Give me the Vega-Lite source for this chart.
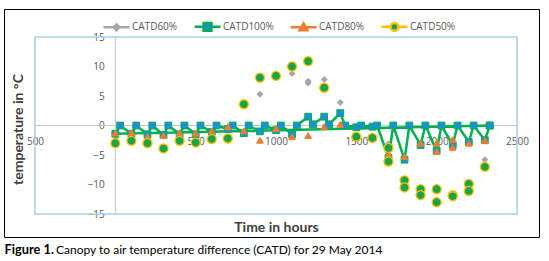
{
  "$schema": "https://vega.github.io/schema/vega-lite/v6.json",
  "width": 535,
  "height": 228,
  "autosize": "none",
  "padding": {"left": 4, "top": 9, "right": 10, "bottom": 24},
  "background": "white",
  "config": {"view": {"stroke": "#000000", "strokeWidth": 1}, "font": "Open Sans"},
  "data": {"values": [
    {"s":"CATD60%","t":0,"v":-3.0},{"s":"CATD60%","t":100,"v":-2.6},{"s":"CATD60%","t":200,"v":-3.0},{"s":"CATD60%","t":300,"v":-3.9},
    {"s":"CATD60%","t":400,"v":-2.6},{"s":"CATD60%","t":500,"v":-2.9},{"s":"CATD60%","t":600,"v":-2.3},{"s":"CATD60%","t":700,"v":-2.2},
    {"s":"CATD60%","t":800,"v":3.6},{"s":"CATD60%","t":900,"v":5.3},{"s":"CATD60%","t":1000,"v":8.4},{"s":"CATD60%","t":1100,"v":8.8},
    {"s":"CATD60%","t":1200,"v":7.2},{"s":"CATD60%","t":1200,"v":7.5},{"s":"CATD60%","t":1300,"v":7.8},{"s":"CATD60%","t":1400,"v":3.9},
    {"s":"CATD60%","t":1500,"v":-1.9},{"s":"CATD60%","t":1600,"v":-2.1},{"s":"CATD60%","t":1700,"v":-3.1},{"s":"CATD60%","t":1800,"v":-9.3},
    {"s":"CATD60%","t":1900,"v":-10.8},{"s":"CATD60%","t":2000,"v":-10.8},{"s":"CATD60%","t":2100,"v":-11.9},{"s":"CATD60%","t":2200,"v":-9.9},
    {"s":"CATD60%","t":2300,"v":-5.8},

    {"s":"CATD100%","t":2330,"v":0.0,"o":0},
    {"s":"CATD100%","t":0,"v":-1.4,"o":1},{"s":"CATD100%","t":30,"v":0.0,"o":2},
    {"s":"CATD100%","t":100,"v":-1.4,"o":3},{"s":"CATD100%","t":130,"v":0.0,"o":4},
    {"s":"CATD100%","t":200,"v":-1.5,"o":5},{"s":"CATD100%","t":230,"v":0.0,"o":6},
    {"s":"CATD100%","t":300,"v":-1.6,"o":7},{"s":"CATD100%","t":330,"v":0.0,"o":8},
    {"s":"CATD100%","t":400,"v":-1.5,"o":9},{"s":"CATD100%","t":430,"v":0.0,"o":10},
    {"s":"CATD100%","t":500,"v":-1.5,"o":11},{"s":"CATD100%","t":530,"v":0.0,"o":12},
    {"s":"CATD100%","t":600,"v":-1.1,"o":13},{"s":"CATD100%","t":630,"v":0.0,"o":14},
    {"s":"CATD100%","t":700,"v":-0.6,"o":15},{"s":"CATD100%","t":730,"v":0.0,"o":16},
    {"s":"CATD100%","t":800,"v":-1.3,"o":17},{"s":"CATD100%","t":830,"v":0.0,"o":18},
    {"s":"CATD100%","t":900,"v":-1.0,"o":19},{"s":"CATD100%","t":930,"v":0.0,"o":20},
    {"s":"CATD100%","t":1000,"v":-0.8,"o":21},{"s":"CATD100%","t":1030,"v":0.0,"o":22},
    {"s":"CATD100%","t":1100,"v":-1.5,"o":23},{"s":"CATD100%","t":1130,"v":0.0,"o":24},
    {"s":"CATD100%","t":1200,"v":1.5,"o":25},{"s":"CATD100%","t":1230,"v":0.2,"o":26},
    {"s":"CATD100%","t":1300,"v":1.5,"o":27},{"s":"CATD100%","t":1330,"v":0.2,"o":28},
    {"s":"CATD100%","t":1400,"v":2.1,"o":29},{"s":"CATD100%","t":1430,"v":0.0,"o":30},
    {"s":"CATD100%","t":1500,"v":-0.3,"o":31},{"s":"CATD100%","t":1530,"v":0.0,"o":32},
    {"s":"CATD100%","t":1600,"v":-0.2,"o":33},{"s":"CATD100%","t":1630,"v":0.0,"o":34},
    {"s":"CATD100%","t":1700,"v":-5.5,"o":35},{"s":"CATD100%","t":1730,"v":0.0,"o":36},
    {"s":"CATD100%","t":1800,"v":-5.8,"o":37},{"s":"CATD100%","t":1830,"v":0.0,"o":38},
    {"s":"CATD100%","t":1900,"v":-3.3,"o":39},{"s":"CATD100%","t":1930,"v":0.0,"o":40},
    {"s":"CATD100%","t":2000,"v":-4.3,"o":41},{"s":"CATD100%","t":2030,"v":0.0,"o":42},
    {"s":"CATD100%","t":2100,"v":-3.3,"o":43},{"s":"CATD100%","t":2130,"v":0.0,"o":44},
    {"s":"CATD100%","t":2200,"v":-2.8,"o":45},{"s":"CATD100%","t":2230,"v":0.0,"o":46},
    {"s":"CATD100%","t":2300,"v":-2.5,"o":47},{"s":"CATD100%","t":2330,"v":0.0,"o":48},

    {"s":"CATD80%","t":0,"v":-1.3},{"s":"CATD80%","t":100,"v":-1.2},{"s":"CATD80%","t":200,"v":-1.9},{"s":"CATD80%","t":300,"v":-1.7},
    {"s":"CATD80%","t":400,"v":-1.2},{"s":"CATD80%","t":500,"v":-1.3},{"s":"CATD80%","t":600,"v":-0.9},{"s":"CATD80%","t":700,"v":-0.2},
    {"s":"CATD80%","t":800,"v":-0.9},{"s":"CATD80%","t":900,"v":-2.5},{"s":"CATD80%","t":1000,"v":-0.5},{"s":"CATD80%","t":1100,"v":-1.9},
    {"s":"CATD80%","t":1200,"v":-1.7},{"s":"CATD80%","t":1300,"v":-0.2},{"s":"CATD80%","t":1400,"v":0.2},{"s":"CATD80%","t":1500,"v":-1.9},
    {"s":"CATD80%","t":1600,"v":-2.1},{"s":"CATD80%","t":1700,"v":-4.8},{"s":"CATD80%","t":1800,"v":-5.3},{"s":"CATD80%","t":1900,"v":-3.0},
    {"s":"CATD80%","t":2000,"v":-3.0},{"s":"CATD80%","t":2000,"v":-4.4},{"s":"CATD80%","t":2100,"v":-2.4},{"s":"CATD80%","t":2100,"v":-3.7},
    {"s":"CATD80%","t":2200,"v":-3.0},{"s":"CATD80%","t":2300,"v":-2.5},

    {"s":"CATD50%","t":0,"v":-3.0},{"s":"CATD50%","t":100,"v":-2.6},{"s":"CATD50%","t":200,"v":-3.0},{"s":"CATD50%","t":300,"v":-3.9},
    {"s":"CATD50%","t":400,"v":-2.6},{"s":"CATD50%","t":500,"v":-2.9},{"s":"CATD50%","t":600,"v":-2.3},{"s":"CATD50%","t":700,"v":-2.2},
    {"s":"CATD50%","t":800,"v":3.6},{"s":"CATD50%","t":900,"v":8.1},{"s":"CATD50%","t":1000,"v":8.4},{"s":"CATD50%","t":1100,"v":10.0},
    {"s":"CATD50%","t":1200,"v":10.9},{"s":"CATD50%","t":1300,"v":6.4},{"s":"CATD50%","t":1500,"v":-1.9},{"s":"CATD50%","t":1600,"v":-2.1},
    {"s":"CATD50%","t":1700,"v":-3.8},{"s":"CATD50%","t":1700,"v":-6.1},{"s":"CATD50%","t":1800,"v":-9.3},{"s":"CATD50%","t":1800,"v":-10.5},
    {"s":"CATD50%","t":1900,"v":-10.8},{"s":"CATD50%","t":1900,"v":-11.8},{"s":"CATD50%","t":2000,"v":-10.8},{"s":"CATD50%","t":2000,"v":-13.0},
    {"s":"CATD50%","t":2100,"v":-11.8},{"s":"CATD50%","t":2100,"v":-12.0},{"s":"CATD50%","t":2200,"v":-9.9},{"s":"CATD50%","t":2200,"v":-11.1},
    {"s":"CATD50%","t":2300,"v":-7.0}
  ]},
  "resolve": {"axis": {"x": "independent", "y": "independent"}},
  "layer": [
    {
      "data": {"values": [{}]},
      "mark": {"type": "rect", "fillOpacity": 0, "stroke": "#A8CFEF", "strokeWidth": 1.5},
      "encoding": {
        "x": {"datum": -500, "type": "quantitative", "scale": {"domain": [-692.9, 2636.9], "nice": false, "zero": false},
          "axis": {"orient": "bottom", "labels": false, "ticks": false, "domain": false, "grid": false,
            "title": "Figure 1.", "titleFont": "Lato", "titleFontWeight": "bold", "titleFontSize": 12.8, "titleColor": "#000000",
            "titleAlign": "left", "titleBaseline": "alphabetic", "titleX": 0, "titleY": 16}},
        "x2": {"datum": 2500},
        "y": {"datum": -15, "type": "quantitative", "scale": {"domain": [-18.898, 19.746], "nice": false, "zero": false}, "axis": null},
        "y2": {"datum": 15}
      }
    },
    {
      "data": {"values": [{}]},
      "mark": {"type": "rule", "stroke": "#C6C6C6", "strokeWidth": 1},
      "encoding": {
        "x": {"datum": -500, "type": "quantitative", "scale": {"domain": [-692.9, 2636.9], "nice": false, "zero": false},
          "axis": {"orient": "bottom", "labels": false, "ticks": false, "domain": false, "grid": false,
            "title": "Canopy to air temperature difference (CATD) for 29 May 2014", "titleFont": "Lato", "titleFontWeight": "normal", "titleFontSize": 12, "titleColor": "#000000",
            "titleAlign": "left", "titleBaseline": "alphabetic", "titleX": 51.5, "titleY": 16}},
        "x2": {"datum": 2500},
        "y": {"datum": 0, "type": "quantitative", "scale": {"domain": [-18.898, 19.746], "nice": false, "zero": false}, "axis": null}
      }
    },
    {
      "data": {"values": [{}]},
      "mark": {"type": "rule", "stroke": "#C6C6C6", "strokeWidth": 1},
      "encoding": {
        "x": {"datum": 0, "type": "quantitative", "scale": {"domain": [-692.9, 2636.9], "nice": false, "zero": false}, "axis": null},
        "y": {"datum": -15, "type": "quantitative", "scale": {"domain": [-18.898, 19.746], "nice": false, "zero": false}, "axis": null},
        "y2": {"datum": 15}
      }
    },
    {
      "data": {"values": []},
      "mark": {"type": "point", "filled": true, "opacity": 1},
      "encoding": {
        "fill": {"field": "s", "type": "nominal",
          "scale": {"domain": ["CATD60%", "CATD100%", "CATD80%", "CATD50%"], "range": ["#A5A5A5", "#1C8FD6", "#ED7D31", "#14A54A"]},
          "legend": {"orient": "none", "legendX": 98, "legendY": 3, "direction": "horizontal", "title": null, "padding": 0,
            "columnPadding": 11, "labelOffset": 1, "labelFontSize": 10, "labelColor": "#595959", "labelFont": "Open Sans",
            "symbolSize": 676, "symbolStrokeWidth": 2.5, "symbolOpacity": 1}},
        "stroke": {"field": "s", "type": "nominal",
          "scale": {"domain": ["CATD60%", "CATD100%", "CATD80%", "CATD50%"], "range": ["#A5A5A5", "#00B050", "#ED7D31", "#FFC000"]}},
        "shape": {"field": "s", "type": "nominal",
          "scale": {"domain": ["CATD60%", "CATD100%", "CATD80%", "CATD50%"],
            "range": ["M-1,0H1M0,-0.22L0.22,0L0,0.22L-0.22,0Z", "M-1,0H-0.3M0.3,0H1M-0.3,-0.3H0.3V0.3H-0.3Z", "M-1,0H1M0,-0.3L0.3,0.22L-0.3,0.22Z", "M-1,0H-0.3M0.3,0H1M-0.3,0A0.3,0.3 0 1,0 0.3,0A0.3,0.3 0 1,0 -0.3,0Z"]}}
      }
    },
    {
      "transform": [{"filter": "datum.s === 'CATD60%'"}],
      "mark": {"type": "point", "filled": true, "opacity": 1, "strokeWidth": 1, "size": 34, "shape": "diamond"},
      "encoding": {
        "x": {"field": "t", "type": "quantitative", "scale": {"domain": [-692.9, 2636.9], "nice": false, "zero": false}, "axis": null},
        "y": {"field": "v", "type": "quantitative", "scale": {"domain": [-18.898, 19.746], "nice": false, "zero": false}, "axis": null},
        "fill": {"field": "s", "type": "nominal",
          "scale": {"domain": ["CATD60%", "CATD100%", "CATD80%", "CATD50%"], "range": ["#A5A5A5", "#1C8FD6", "#ED7D31", "#14A54A"]}},
        "stroke": {"field": "s", "type": "nominal",
          "scale": {"domain": ["CATD60%", "CATD100%", "CATD80%", "CATD50%"], "range": ["#A5A5A5", "#00B050", "#ED7D31", "#FFC000"]}}
      }
    },
    {
      "transform": [{"filter": "datum.s === 'CATD100%'"}],
      "mark": {"type": "line", "color": "#00B050", "strokeWidth": 2.5, "strokeJoin": "round"},
      "encoding": {
        "x": {"field": "t", "type": "quantitative", "scale": {"domain": [-692.9, 2636.9], "nice": false, "zero": false},
          "axis": {"orient": "bottom", "offset": -111.5, "values": [-500, 0, 500, 1000, 1500, 2000, 2500], "format": "d",
            "labelExpr": "datum.value < 0 ? format(-datum.value, 'd') : datum.label",
            "domain": false, "ticks": false, "tickSize": 0, "grid": false, "labelPadding": 11, "labelFontSize": 10, "labelColor": "#595959", "labelFont": "Open Sans",
            "title": "Time in hours", "titleFont": "Lato", "titleFontWeight": "bold", "titleFontSize": 14, "titleColor": "#404040",
            "titleAlign": "center", "titleBaseline": "alphabetic", "titleX": 272, "titleY": 106}},
        "y": {"field": "v", "type": "quantitative", "scale": {"domain": [-18.898, 19.746], "nice": false, "zero": false},
          "axis": {"orient": "left", "offset": -111.3, "values": [-15, -10, -5, 0, 5, 10, 15], "format": "d",
            "domain": false, "ticks": false, "tickSize": 0, "grid": false, "labelPadding": 11, "labelFontSize": 10, "labelColor": "#595959", "labelFont": "Open Sans",
            "title": "temperature in °C", "titleFont": "Lato", "titleFontWeight": "bold", "titleFontSize": 14, "titleColor": "#404040",
            "titleAlign": "center", "titleBaseline": "alphabetic", "titleAngle": -90, "titleX": -93, "titleY": 120}},
        "order": {"field": "o", "type": "quantitative"}
      }
    },
    {
      "transform": [{"filter": "datum.s === 'CATD100%'"}],
      "mark": {"type": "point", "filled": true, "opacity": 1, "strokeWidth": 1, "size": 46, "shape": "square"},
      "encoding": {
        "x": {"field": "t", "type": "quantitative", "scale": {"domain": [-692.9, 2636.9], "nice": false, "zero": false}, "axis": null},
        "y": {"field": "v", "type": "quantitative", "scale": {"domain": [-18.898, 19.746], "nice": false, "zero": false}, "axis": null},
        "fill": {"field": "s", "type": "nominal",
          "scale": {"domain": ["CATD60%", "CATD100%", "CATD80%", "CATD50%"], "range": ["#A5A5A5", "#1C8FD6", "#ED7D31", "#14A54A"]}},
        "stroke": {"field": "s", "type": "nominal",
          "scale": {"domain": ["CATD60%", "CATD100%", "CATD80%", "CATD50%"], "range": ["#A5A5A5", "#00B050", "#ED7D31", "#FFC000"]}}
      }
    },
    {
      "transform": [{"filter": "datum.s === 'CATD80%'"}],
      "mark": {"type": "point", "filled": true, "opacity": 1, "strokeWidth": 1, "size": 46, "shape": "triangle-up"},
      "encoding": {
        "x": {"field": "t", "type": "quantitative", "scale": {"domain": [-692.9, 2636.9], "nice": false, "zero": false}, "axis": null},
        "y": {"field": "v", "type": "quantitative", "scale": {"domain": [-18.898, 19.746], "nice": false, "zero": false}, "axis": null},
        "fill": {"field": "s", "type": "nominal",
          "scale": {"domain": ["CATD60%", "CATD100%", "CATD80%", "CATD50%"], "range": ["#A5A5A5", "#1C8FD6", "#ED7D31", "#14A54A"]}},
        "stroke": {"field": "s", "type": "nominal",
          "scale": {"domain": ["CATD60%", "CATD100%", "CATD80%", "CATD50%"], "range": ["#A5A5A5", "#00B050", "#ED7D31", "#FFC000"]}}
      }
    },
    {
      "transform": [{"filter": "datum.s === 'CATD50%'"}],
      "mark": {"type": "point", "filled": true, "opacity": 1, "strokeWidth": 1.3, "size": 82, "shape": "circle"},
      "encoding": {
        "x": {"field": "t", "type": "quantitative", "scale": {"domain": [-692.9, 2636.9], "nice": false, "zero": false}, "axis": null},
        "y": {"field": "v", "type": "quantitative", "scale": {"domain": [-18.898, 19.746], "nice": false, "zero": false}, "axis": null},
        "fill": {"field": "s", "type": "nominal",
          "scale": {"domain": ["CATD60%", "CATD100%", "CATD80%", "CATD50%"], "range": ["#A5A5A5", "#1C8FD6", "#ED7D31", "#14A54A"]}},
        "stroke": {"field": "s", "type": "nominal",
          "scale": {"domain": ["CATD60%", "CATD100%", "CATD80%", "CATD50%"], "range": ["#A5A5A5", "#00B050", "#ED7D31", "#FFC000"]}}
      }
    }
  ]
}
